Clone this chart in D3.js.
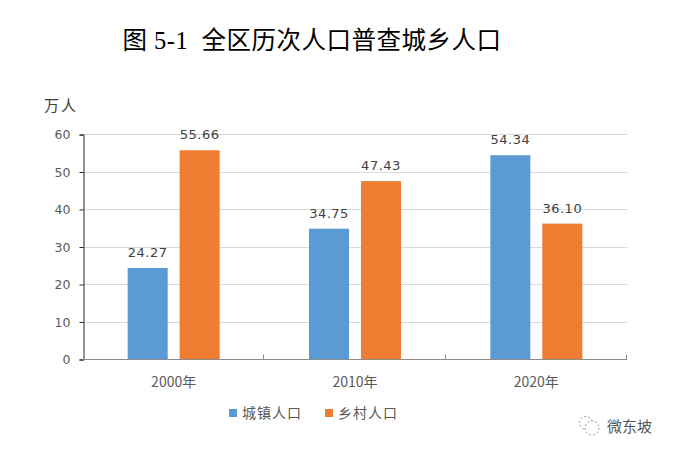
<!DOCTYPE html>
<html>
<head>
<meta charset="utf-8">
<script src="https://cdn.jsdelivr.net/npm/d3@7"></script>
<style>
  body { margin: 0; background: #fff; }
  text { font-family: "Noto Sans CJK SC", "Noto Sans", sans-serif; }
</style>
</head>
<body>
<div id="chart-area"></div>
<script>
// data
var years = ["2000年", "2010年", "2020年"];
var seriesNames = ["城镇人口", "乡村人口"];
var urban = [24.27, 34.75, 54.34];
var rural = [55.66, 47.43, 36.10];
var yTicks = [0, 10, 20, 30, 40, 50, 60];
var colors = ["#5b9bd5", "#ed7d31"];

var rows = years.map(function(y, i){
    return { year: y, values: [urban[i], rural[i]] };
});

var width = 674, height = 454;
var plotLeft = 83, plotRight = 627, plotTop = 134, plotBottom = 359;

var svg = d3.select("#chart-area").append("svg")
    .attr("width", width)
    .attr("height", height);

// title
svg.append("text")
    .attr("x", 312)
    .attr("y", 49)
    .attr("text-anchor", "middle")
    .style("white-space", "pre")
    .style("font-family", "'Liberation Serif', 'Noto Sans CJK SC', serif")
    .style("font-size", "24.5px")
    .style("letter-spacing", "0.5px")
    .style("fill", "#000")
    .text("图 5-1  全区历次人口普查城乡人口");

var x0 = d3.scaleBand()
    .domain(years)
    .range([plotLeft, plotRight]);

var bw = x0.bandwidth();
var x1 = d3.scaleBand()
    .domain([0, 1])
    .range([(bw - 92) / 2, (bw + 92) / 2])
    .paddingInner(0.23);

var y = d3.scaleLinear()
    .domain([0, 60])
    .range([plotBottom, plotTop]);

// gridlines
svg.append("g").selectAll("line")
    .data(yTicks.filter(function(d){ return d > 0; }))
    .enter()
    .append("line")
        .attr("x1", plotLeft)
        .attr("x2", plotRight)
        .attr("y1", function(d){ return Math.round(y(d)) + 0.5; })
        .attr("y2", function(d){ return Math.round(y(d)) + 0.5; })
        .attr("stroke", "#d9d9d9")
        .attr("stroke-width", 1);

// y axis
var yAxis = svg.append("g")
    .attr("transform", "translate(" + (plotLeft + 0.5) + ",0.5)")
    .call(d3.axisLeft(y).tickValues(yTicks).tickSize(4).tickPadding(9));
yAxis.select(".domain").attr("stroke", "#262626");
yAxis.selectAll(".tick line").attr("stroke", "#262626");
yAxis.selectAll("text")
    .style("font-family", "'DejaVu Sans', sans-serif")
    .style("font-size", "12.5px")
    .style("fill", "#595959");

svg.append("text")
    .attr("x", 44)
    .attr("y", 111)
    .style("font-size", "15px")
    .style("fill", "#404040")
    .style("letter-spacing", "2px")
    .text("万人");

// bars
var groups = svg.append("g").selectAll("g")
    .data(rows)
    .enter()
    .append("g")
        .attr("transform", function(d){ return "translate(" + x0(d.year) + ",0)"; });

groups.selectAll("rect")
    .data(function(d){ return d.values; })
    .enter()
    .append("rect")
        .attr("x", function(d, i){ return x1(i); })
        .attr("y", function(d){ return y(d); })
        .attr("width", x1.bandwidth())
        .attr("height", function(d){ return plotBottom - y(d); })
        .attr("fill", function(d, i){ return colors[i]; });

groups.selectAll("text")
    .data(function(d){ return d.values; })
    .enter()
    .append("text")
        .attr("x", function(d, i){ return x1(i) + x1.bandwidth() / 2; })
        .attr("y", function(d){ return y(d) - 11; })
        .attr("text-anchor", "middle")
        .style("font-family", "'DejaVu Sans', sans-serif")
        .style("font-size", "13px")
        .style("letter-spacing", "0.5px")
        .style("fill", "#404040")
        .text(function(d){ return d.toFixed(2); });

// x axis
var xAxis = svg.append("g")
    .attr("transform", "translate(0," + (plotBottom + 0.5) + ")");
xAxis.append("line")
    .attr("x1", plotLeft)
    .attr("x2", plotRight)
    .attr("stroke", "#8c8c8c");
var edges = years.map(function(d){ return x0(d) + bw; });
xAxis.selectAll(".edge")
    .data(edges)
    .enter()
    .append("line")
        .attr("x1", function(d){ return Math.round(d) - 0.5; })
        .attr("x2", function(d){ return Math.round(d) - 0.5; })
        .attr("y1", 0)
        .attr("y2", -5)
        .attr("stroke", "#8c8c8c");
xAxis.selectAll(".lbl")
    .data(years)
    .enter()
    .append("text")
        .attr("x", function(d){ return x0(d) + bw / 2; })
        .attr("y", 27)
        .attr("text-anchor", "middle")
        .style("font-size", "14px")
        .style("fill", "#595959")
        .text(function(d){ return d; });

// legend
var legend = svg.append("g").selectAll("g")
    .data(seriesNames)
    .enter()
    .append("g")
        .attr("transform", function(d, i){ return "translate(" + (229 + i * 96) + ",408)"; });
legend.append("rect")
    .attr("width", 8)
    .attr("height", 8)
    .attr("y", 1)
    .attr("fill", function(d, i){ return colors[i]; });
legend.append("text")
    .attr("x", 13)
    .attr("y", 10)
    .style("font-size", "14px")
    .style("letter-spacing", "1px")
    .style("fill", "#595959")
    .text(function(d){ return d; });

// watermark
var wm = svg.append("g").attr("transform", "translate(578,416)");
wm.append("circle").attr("cx", 8).attr("cy", 7).attr("r", 6.5)
    .attr("fill", "none").attr("stroke", "#9a9a9a").attr("stroke-dasharray", "2,2");
wm.append("circle").attr("cx", 14).attr("cy", 12).attr("r", 7)
    .attr("fill", "#fff").attr("stroke", "#9a9a9a").attr("stroke-dasharray", "2,2");
wm.append("text")
    .attr("x", 29)
    .attr("y", 16)
    .style("font-size", "15px")
    .style("fill", "#555")
    .text("微东坡");
</script>
</body>
</html>
